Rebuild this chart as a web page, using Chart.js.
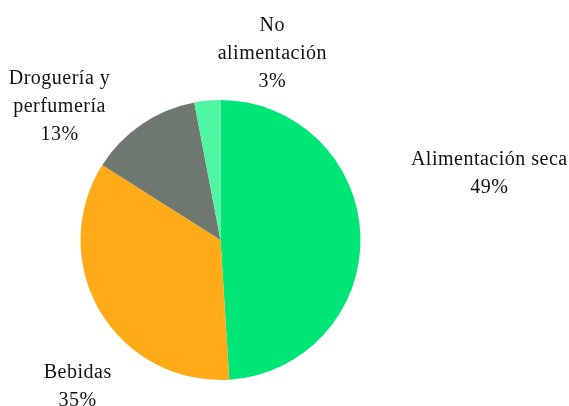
<!DOCTYPE html>
<html>
<head>
<meta charset="utf-8">
<script src="https://cdn.jsdelivr.net/npm/chart.js@4"></script>
<style>
  html, body { margin: 0; padding: 0; background: #fff; }
</style>
</head>
<body>
<canvas id="ventasPie" width="569" height="406"></canvas>
<script>
const categories = ["Alimentación seca", "Bebidas", "Droguería y perfumería", "No alimentación"];
const shares = [49, 35, 13, 3];
const colors = ["#00E676", "#FFAB18", "#6E786F", "#50F7A2"];

// label text split into lines, the way they wrap beside the pie
const labelLines = [
  ["Alimentación seca"],
  ["Bebidas"],
  ["Droguería y", "perfumería"],
  ["No", "alimentación"],
];

// label anchor (centre of the text block) relative to pie centre, in radius units
const labelAnchor = [
  [1.92, -0.47],
  [-1.02, 1.05],
  [-1.15, -0.95],
  [0.37, -1.33],
];

const outsideLabels = {
  id: "outsideLabels",
  afterDatasetsDraw(chart) {
    const { ctx } = chart;
    const arcs = chart.getDatasetMeta(0).data;
    const lineH = 28;
    ctx.save();
    ctx.font = "20px 'Liberation Serif', 'Times New Roman', serif";
    ctx.letterSpacing = "0.5px";
    ctx.fillStyle = "#111";
    ctx.textAlign = "center";
    ctx.textBaseline = "middle";
    arcs.forEach((arc, i) => {
      const lines = [...labelLines[i], shares[i] + "%"];
      const cx = arc.x + labelAnchor[i][0] * arc.outerRadius;
      const cy = arc.y + labelAnchor[i][1] * arc.outerRadius;
      const top = cy - (lines.length - 1) * lineH / 2;
      lines.forEach((t, j) => ctx.fillText(t, cx, top + j * lineH));
    });
    ctx.restore();
  },
};

new Chart(document.getElementById("ventasPie"), {
  type: "pie",
  data: {
    labels: categories,
    datasets: [{
      data: shares,
      backgroundColor: colors,
      borderWidth: 0,
    }],
  },
  options: {
    responsive: false,
    animation: false,
    layout: { padding: { left: 80, right: 208, top: 100, bottom: 26 } },
    plugins: {
      legend: { display: false },
      tooltip: { enabled: false },
    },
  },
  plugins: [outsideLabels],
});
</script>
</body>
</html>
